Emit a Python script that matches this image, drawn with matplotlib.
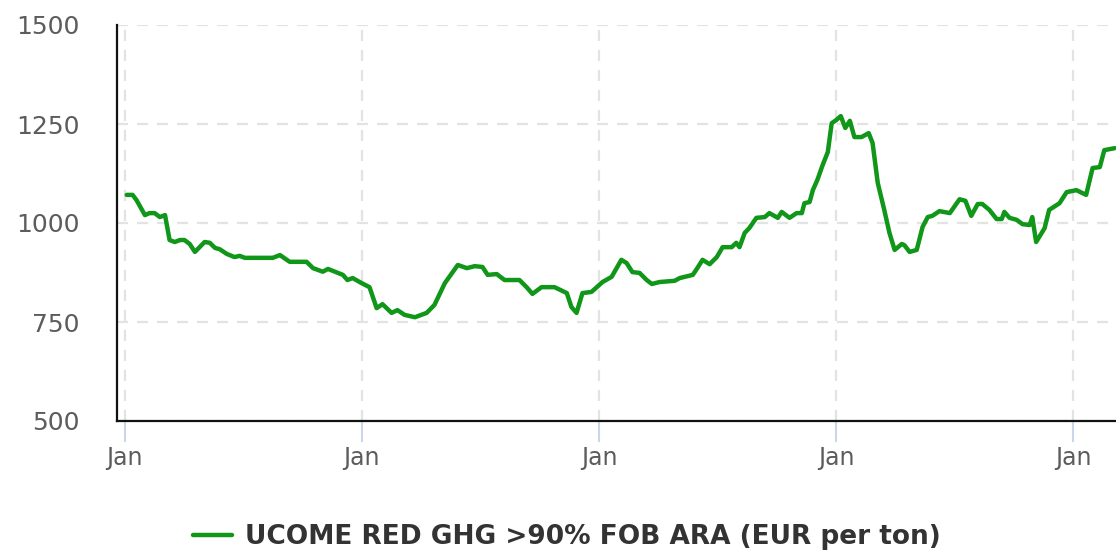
import pandas as pd
import matplotlib
matplotlib.use("Agg")
import matplotlib.pyplot as plt
import matplotlib.dates as mdates

# UCOME RED GHG >90% FOB ARA, EUR per ton
dates = [
    "2019-01-04", "2019-01-13", "2019-01-19", "2019-02-01", "2019-02-08", "2019-02-16",
    "2019-02-24", "2019-03-04", "2019-03-11", "2019-03-19", "2019-03-27", "2019-04-03",
    "2019-04-11", "2019-04-19", "2019-05-04", "2019-05-12", "2019-05-20", "2019-05-27",
    "2019-06-07", "2019-06-19", "2019-06-27", "2019-07-05", "2019-07-12", "2019-08-17",
    "2019-08-28", "2019-09-12", "2019-10-08", "2019-10-18", "2019-11-02", "2019-11-10",
    "2019-12-03", "2019-12-10", "2019-12-18", "2020-01-01", "2020-01-13", "2020-01-24",
    "2020-02-02", "2020-02-16", "2020-02-25", "2020-03-07", "2020-03-23", "2020-04-10",
    "2020-04-22", "2020-05-08", "2020-05-15", "2020-05-28", "2020-06-11", "2020-06-23",
    "2020-07-05", "2020-07-13", "2020-07-27", "2020-08-08", "2020-08-31", "2020-09-11",
    "2020-09-20", "2020-10-04", "2020-10-24", "2020-11-12", "2020-11-19", "2020-11-27",
    "2020-12-06", "2020-12-20", "2021-01-06", "2021-01-20", "2021-02-04", "2021-02-12",
    "2021-02-21", "2021-03-04", "2021-03-15", "2021-03-23", "2021-04-04", "2021-04-27",
    "2021-05-05", "2021-05-25", "2021-06-01", "2021-06-09", "2021-06-20", "2021-07-01",
    "2021-07-10", "2021-07-24", "2021-07-31", "2021-08-05", "2021-08-13", "2021-08-20",
    "2021-08-31", "2021-09-13", "2021-09-20", "2021-10-03", "2021-10-09", "2021-10-21",
    "2021-11-01", "2021-11-09", "2021-11-13", "2021-11-21", "2021-11-26", "2021-12-03",
    "2021-12-11", "2021-12-19", "2021-12-25", "2022-01-01", "2022-01-08", "2022-01-15",
    "2022-01-22", "2022-01-29", "2022-02-09", "2022-02-20", "2022-02-26", "2022-03-06",
    "2022-03-16", "2022-03-24", "2022-04-01", "2022-04-12", "2022-04-16", "2022-04-24",
    "2022-05-05", "2022-05-14", "2022-05-22", "2022-05-29", "2022-06-09", "2022-06-25",
    "2022-07-10", "2022-07-19", "2022-07-28", "2022-08-07", "2022-08-14", "2022-08-25",
    "2022-09-05", "2022-09-13", "2022-09-17", "2022-09-25", "2022-10-06", "2022-10-15",
    "2022-10-26", "2022-10-30", "2022-11-05", "2022-11-18", "2022-11-25", "2022-12-11",
    "2022-12-22", "2023-01-06", "2023-01-21", "2023-01-31", "2023-02-11", "2023-02-18",
    "2023-03-06",
]
prices = [
    1071, 1071, 1058, 1020, 1025, 1025,
    1015, 1020, 957, 952, 957, 957,
    947, 927, 952, 950, 937, 934,
    922, 914, 917, 912, 912, 912,
    919, 902, 902, 886, 877, 884,
    869, 856, 861, 848, 838, 785,
    795, 773, 780, 768, 762, 773,
    793, 848, 864, 894, 886, 891,
    889, 869, 871, 856, 856, 838,
    821, 838, 838, 823, 788, 773,
    823, 826, 851, 864, 907, 899,
    876, 874, 856, 846, 851, 854,
    861, 869, 886, 907, 896, 914,
    939, 939, 950, 939, 975, 987,
    1013, 1015, 1025, 1013, 1028, 1013,
    1025, 1025, 1050, 1053, 1083, 1109,
    1146, 1179, 1252, 1260, 1270, 1240,
    1258, 1217, 1217, 1227, 1202, 1101,
    1033, 975, 932, 947, 944, 927,
    932, 990, 1015, 1018, 1030, 1025,
    1060, 1056, 1018, 1048, 1048, 1033,
    1010, 1010, 1028, 1013, 1008, 997,
    995, 1015, 952, 987, 1033, 1050,
    1078, 1083, 1071, 1139, 1141, 1184,
    1189,
]
series_name = "UCOME RED GHG >90% FOB ARA (EUR per ton)"
y_ticks = [500, 750, 1000, 1250, 1500]

x = pd.to_datetime(dates)

fig = plt.figure(figsize=(11.16, 5.51), dpi=100)
ax = fig.add_axes([117 / 1116, 1 - 421 / 551, 1 - 117 / 1116, (421 - 25) / 551])

line, = ax.plot(x, prices, color="#109618", lw=3.2, solid_joinstyle="round",
                solid_capstyle="round", label=series_name)

ax.set_ylim(500, 1500)
ax.set_yticks(y_ticks)
ax.set_xlim(pd.Timestamp("2018-12-20"), pd.Timestamp("2023-03-08"))
ax.xaxis.set_major_locator(mdates.YearLocator())
ax.xaxis.set_major_formatter(mdates.DateFormatter("%b"))

ax.grid(True, color="#e3e3e3", lw=1.6, ls=(0, (5, 4)))
ax.set_axisbelow(True)
for side in ["top", "right"]:
    ax.spines[side].set_visible(False)
for side in ["left", "bottom"]:
    ax.spines[side].set_color("#111111")
    ax.spines[side].set_linewidth(1.6)

ax.tick_params(axis="y", length=0, pad=27, labelsize=18, labelcolor="#5c5c5c")
ax.tick_params(axis="x", length=15, width=1.5, color="#ccd6eb", pad=3,
               labelsize=17, labelcolor="#5c5c5c")

fig.legend(handles=[line], loc="center", bbox_to_anchor=(0.508, 0.025),
           frameon=False, handlelength=1.5, handletextpad=0.5,
           prop={"weight": "bold", "size": 19})
for t in fig.legends[0].get_texts():
    t.set_color("#333333")

fig.savefig("out.png", dpi=100)
